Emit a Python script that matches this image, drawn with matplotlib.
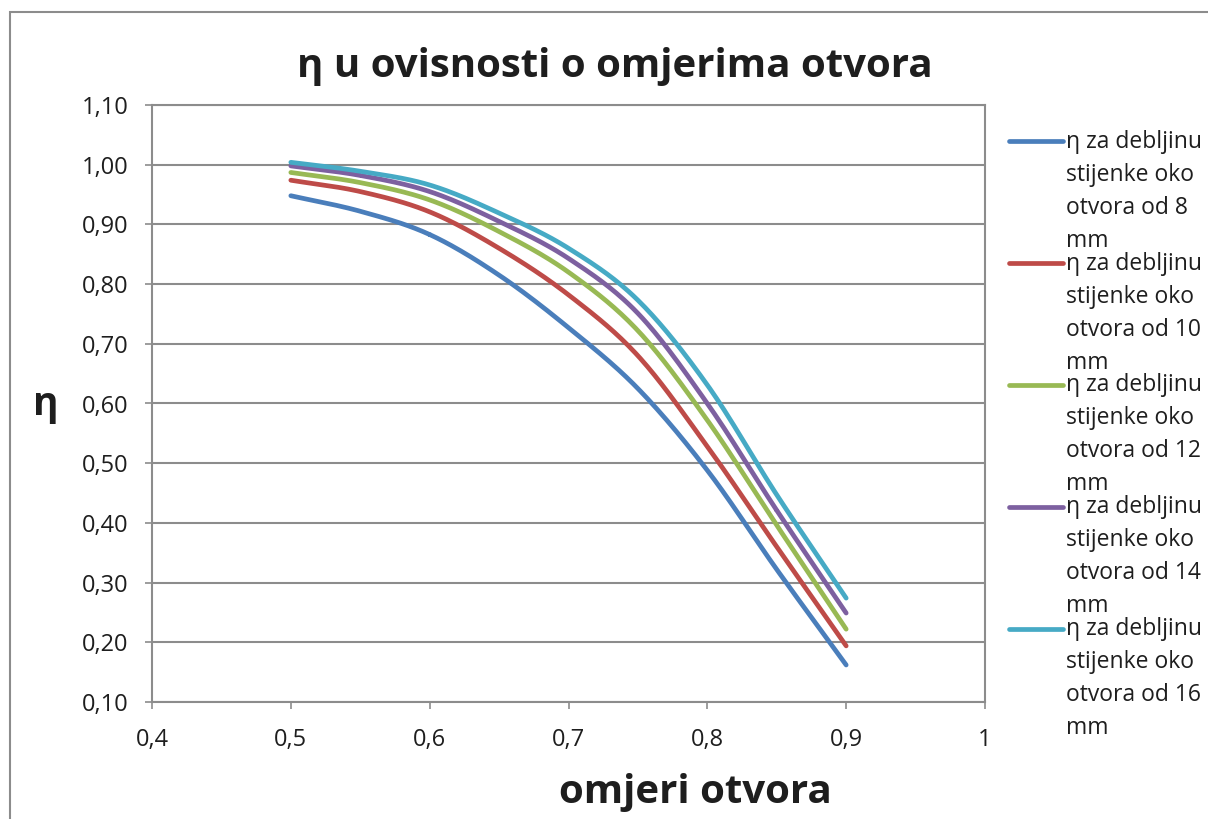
import numpy as np
import matplotlib
matplotlib.use("Agg")
import matplotlib.pyplot as plt
from matplotlib.legend_handler import HandlerLine2D
from matplotlib.patches import Rectangle

plt.rcParams['font.family'] = ['Open Sans', 'DejaVu Sans']

# omjeri otvora (x) i eta za svaku debljinu stijenke
omjeri = [0.5, 0.55, 0.6, 0.65, 0.7, 0.75, 0.8, 0.85, 0.9]
eta_8 = [0.948, 0.922, 0.883, 0.815, 0.727, 0.625, 0.488, 0.322, 0.162]
eta_10 = [0.974, 0.955, 0.921, 0.860, 0.782, 0.680, 0.528, 0.360, 0.194]
eta_12 = [0.987, 0.970, 0.941, 0.888, 0.820, 0.722, 0.572, 0.396, 0.222]
eta_14 = [0.998, 0.982, 0.955, 0.905, 0.843, 0.751, 0.600, 0.421, 0.249]
eta_16 = [1.004, 0.989, 0.966, 0.919, 0.860, 0.773, 0.631, 0.447, 0.274]

debljine = ['8', '10', '12', '14', '16']
boje = ['#4a7ebb', '#be4b48', '#98b954', '#7d60a0', '#46aac5']
serije = [eta_8, eta_10, eta_12, eta_14, eta_16]

LEG_FS = 16.5
LEG_LS = 1.5


def smooth(x, y, n=30):
    # catmull-rom, slicno excelovim zagladjenim linijama
    x = np.asarray(x, float)
    y = np.asarray(y, float)
    px = np.concatenate([[2 * x[0] - x[1]], x, [2 * x[-1] - x[-2]]])
    py = np.concatenate([[2 * y[0] - y[1]], y, [2 * y[-1] - y[-2]]])
    xs, ys = [], []
    t = np.linspace(0, 1, n)
    for i in range(1, len(px) - 2):
        for p, out in ((px, xs), (py, ys)):
            p0, p1, p2, p3 = p[i - 1], p[i], p[i + 1], p[i + 2]
            out.append(0.5 * (2 * p1 + (-p0 + p2) * t
                              + (2 * p0 - 5 * p1 + 4 * p2 - p3) * t ** 2
                              + (-p0 + 3 * p1 - 3 * p2 + p3) * t ** 3))
    return np.concatenate(xs), np.concatenate(ys)


class TopHandler(HandlerLine2D):
    # linija legende uz prvi red teksta, kao u excelu
    def create_artists(self, legend, orig_handle, xdescent, ydescent,
                       width, height, fontsize, trans):
        arts = super().create_artists(legend, orig_handle, xdescent, ydescent,
                                      width, height, fontsize, trans)
        for a in arts:
            a.set_ydata(np.asarray(a.get_ydata()) + 51 * 0.72)
        return arts


fig = plt.figure(figsize=(12.08, 8.19), dpi=100)
fig.patches.append(Rectangle((10 / 1208, -0.1), 1.2, 1.1 - 12 / 819,
                             transform=fig.transFigure, fill=False,
                             edgecolor='#8c8c8c', linewidth=1.5))
ax = fig.add_axes([152 / 1208, 1 - 702 / 819, 833 / 1208, 597 / 819])

for y, c, d in zip(serije, boje, debljine):
    xs, ys = smooth(omjeri, y)
    ax.plot(xs, ys, color=c, linewidth=3.4, solid_capstyle='round',
            label='η za debljinu\nstijenke oko\notvora od %s\nmm' % d)

ax.set_xlim(0.4, 1.0)
ax.set_ylim(0.10, 1.10)
yt = np.arange(0.1, 1.101, 0.1)
ax.set_yticks(yt)
ax.set_xticks([0.4, 0.5, 0.6, 0.7, 0.8, 0.9, 1.0])
ax.set_yticklabels([('%.2f' % v).replace('.', ',') for v in yt])
ax.set_xticklabels(['0,4', '0,5', '0,6', '0,7', '0,8', '0,9', '1'])
ax.grid(axis='y', color='#8c8c8c', linewidth=1.5)
ax.set_axisbelow(True)
for s in ax.spines.values():
    s.set_color('#8c8c8c')
    s.set_linewidth(1.5)
ax.tick_params(colors='#8c8c8c', labelcolor='#1e1e1e', labelsize=17,
               length=5, width=1.2)
ax.tick_params(axis='y', pad=12)
ax.tick_params(axis='x', pad=14)

fig.text(615 / 1208, 1 - 66 / 819, 'η u ovisnosti o omjerima otvora',
         ha='center', va='center', fontsize=29, fontweight='bold', color='#1e1e1e')
fig.text(46 / 1208, 1 - 405 / 819, 'η', ha='center', va='center',
         fontsize=28, fontweight='bold', color='#1e1e1e')
fig.text(695 / 1208, 1 - 792 / 819, 'omjeri otvora', ha='center', va='center',
         fontsize=29, fontweight='bold', color='#1e1e1e')

leg = ax.legend(loc='upper left', bbox_to_anchor=(1.0, 0.999), frameon=False,
                fontsize=LEG_FS, handlelength=2.35, handletextpad=0.12,
                labelspacing=-0.05, borderaxespad=0.65,
                handler_map={plt.Line2D: TopHandler()})
for t in leg.get_texts():
    t.set_linespacing(LEG_LS)
    t.set_color('#1e1e1e')

fig.savefig('out.png', dpi=100)
